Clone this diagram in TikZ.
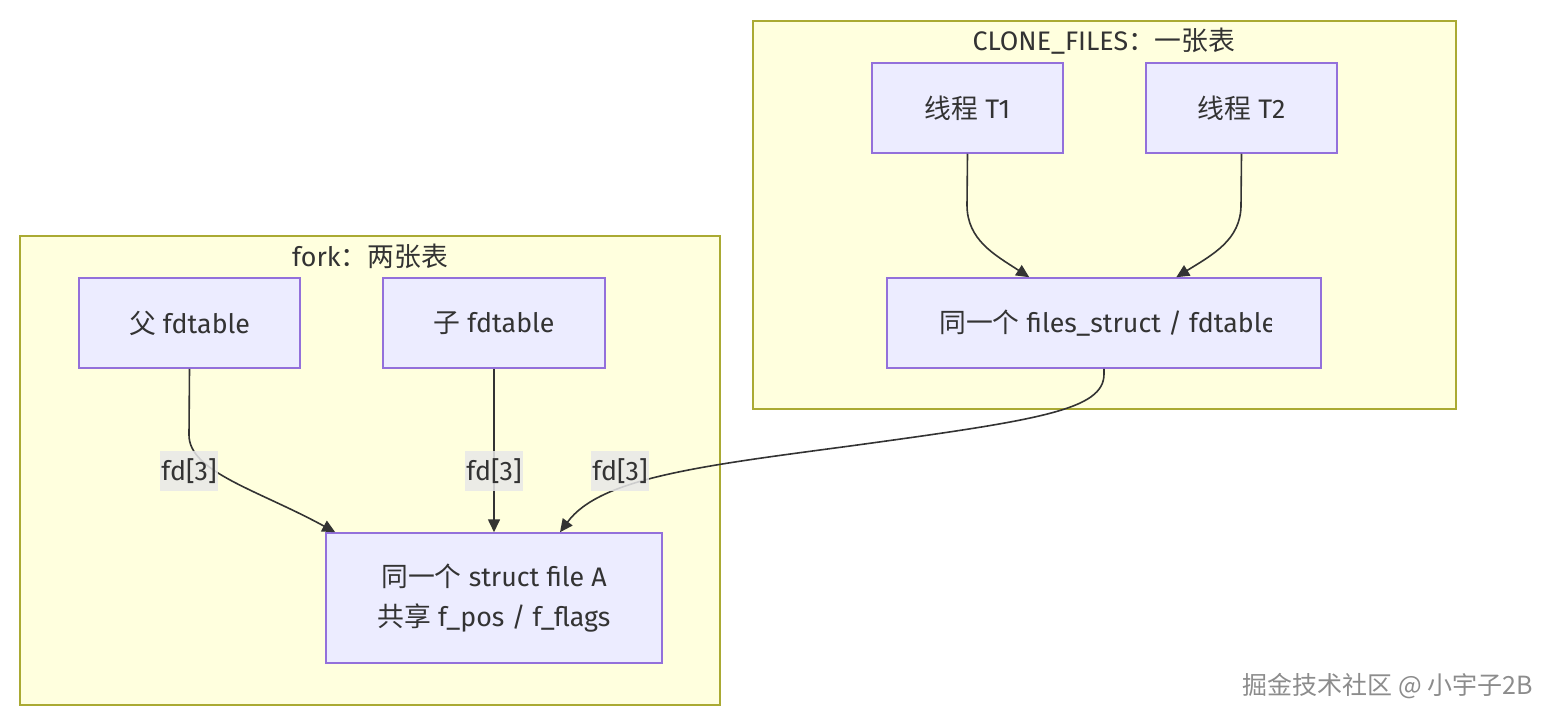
\documentclass[tikz,border=0pt]{standalone}
\usepackage{fontspec}
\setmainfont{Fira Sans}
\newfontfamily\cjk{Noto Sans CJK SC}
\usetikzlibrary{arrows.meta,calc}
\definecolor{clfill}{HTML}{FFFFDE}
\definecolor{cldraw}{HTML}{AAAA33}
\definecolor{ndfill}{HTML}{ECECFF}
\definecolor{nddraw}{HTML}{9370DB}
\definecolor{edgec}{HTML}{333333}
\definecolor{lblbg}{HTML}{E8E8E8}
\begin{document}
\begin{tikzpicture}[x=1pt,y=-1pt,
  cluster/.style={draw=cldraw,fill=clfill,line width=1.5pt,inner sep=0pt,outer sep=0pt,anchor=north west},
  box/.style={draw=nddraw,fill=ndfill,line width=1.5pt,inner sep=0pt,align=center,font=\fontsize{26.8}{40}\selectfont,text=edgec},
  ttl/.style={font=\fontsize{26.8}{30}\selectfont,text=edgec,inner sep=0pt},
  lbl/.style={fill=lblbg,fill opacity=0.85,text opacity=1,font=\fontsize{26.8}{30}\selectfont,text=edgec,minimum width=58pt,minimum height=40pt,inner sep=0pt},
  conn/.style={draw=edgec,line width=1.6pt,-{Triangle[length=13pt,width=12pt]}}
]
\useasboundingbox[fill=white] (0,0) rectangle (1554,720);

% clusters
\node[cluster,minimum width=700pt,minimum height=469pt] (fork) at (20,236) {};
\node[ttl] (forkt) at (370,256) {fork{\cjk ：两张表}};
\node[cluster,minimum width=703pt,minimum height=388pt] (clone) at (753,21) {};
\node[ttl] (clonet) at (1104,41) {CLONE\_FILES{\cjk ：一张表}};

% nodes
\node[box,minimum width=221pt,minimum height=90pt] (pf) at (189.5,323) {{\cjk 父} fdtable};
\node[box,minimum width=222pt,minimum height=90pt] (cf) at (494,323) {{\cjk 子} fdtable};
\node[box,minimum width=336pt,minimum height=130pt] (sA) at (494,598) {{\cjk 同一个} struct file A\\{\cjk 共享} f\_pos / f\_flags};
\node[box,minimum width=191pt,minimum height=90pt] (t1) at (967.5,108) {{\cjk 线程} T1};
\node[box,minimum width=191pt,minimum height=90pt] (t2) at (1241.5,108) {{\cjk 线程} T2};
\node[box,minimum width=434pt,minimum height=90pt] (fs) at (1104,323) {};
\begin{scope}
  \clip (887,278) rectangle (1271,368);
  \node[anchor=west,inner sep=0pt,font=\fontsize{26.8}{30}\selectfont,text=edgec] (fst) at (939,323) {{\cjk 同一个} files\_struct / fdtable};
\end{scope}

% connectors
\draw[conn] (pf.south) -- (189,435) .. controls (189,472) and (258,490) .. ($(sA.north west)+(10,0)$);
\draw[conn] (cf.south) -- (sA.north);
\draw[conn] (fs.south) -- (1104,374) .. controls (1104,410) and (1040,420) .. (850,446)
  .. controls (700,466) and (600,478) .. ($(sA.north)+(66,0)$);
\draw[conn] (t1.south) -- (967,205) .. controls (967,240) and (995,255) .. ($(fs.north west)+(143,0)$);
\draw[conn] (t2.south) -- (1241,205) .. controls (1241,240) and (1212,255) .. ($(fs.north west)+(290,0)$);

% edge labels
\node[lbl] (l1) at (189,471) {fd[3]};
\node[lbl] (l2) at (494,471) {fd[3]};
\node[lbl] (l3) at (620,471) {fd[3]};

% watermark
\node[inner sep=0pt,font=\fontsize{25}{28}\selectfont\cjk,text=black!45] (wm) at (1388,686) {掘金技术社区 @ 小宇子2B};
\end{tikzpicture}
\end{document}
